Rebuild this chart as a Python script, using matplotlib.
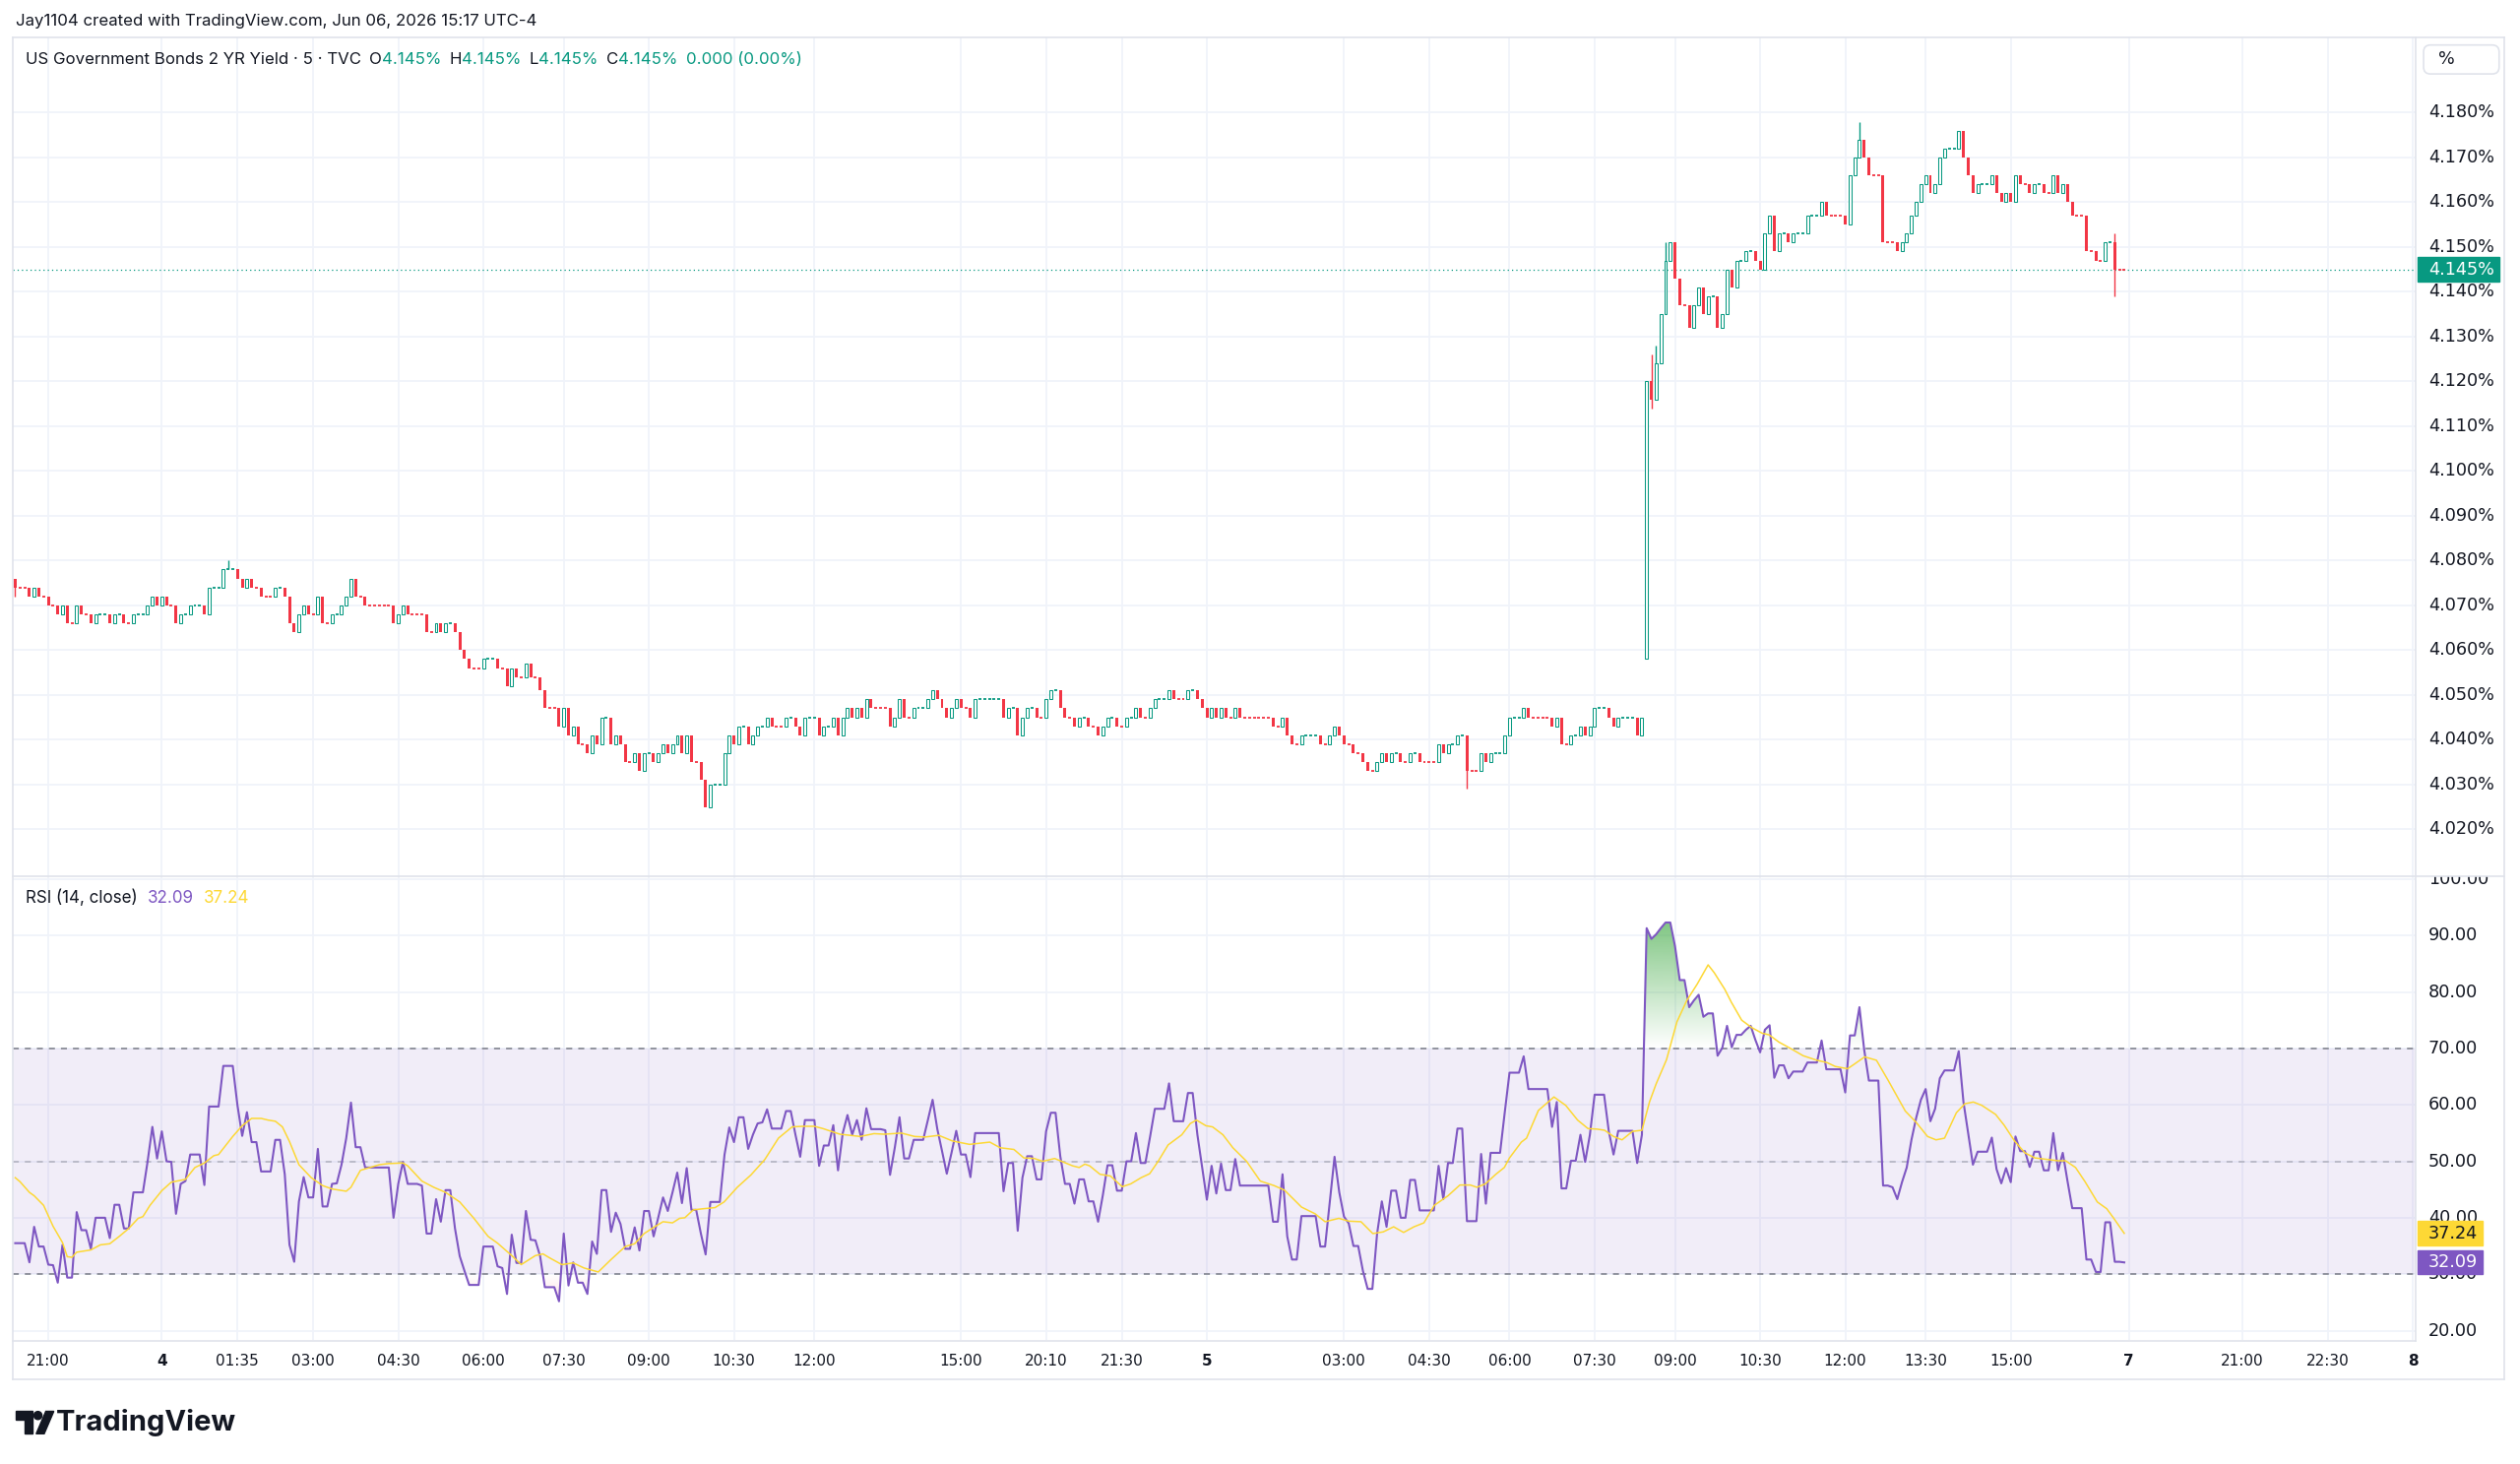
import numpy as np
import matplotlib
matplotlib.use("Agg")
import matplotlib.pyplot as plt
from matplotlib.patches import FancyBboxPatch, Rectangle, Circle, Polygon
from matplotlib.lines import Line2D
from matplotlib.path import Path
from matplotlib.transforms import blended_transform_factory, IdentityTransform
from matplotlib.colors import to_rgb

# ---------------- data ----------------
# 5-minute closes, in thousandths of a percent above 4.000%
first_open = 76
closes = [
    74, 74, 74, 72, 74, 72, 72, 70, 70, 68,
    70, 66, 66, 70, 68, 68, 66, 68, 68, 68,
    66, 68, 68, 66, 66, 68, 68, 68, 70, 72,
    70, 72, 70, 70, 66, 68, 68, 70, 70, 70,
    68, 74, 74, 74, 78, 78, 78, 76, 74, 76,
    74, 74, 72, 72, 72, 74, 74, 72, 66, 64,
    68, 70, 68, 68, 72, 66, 66, 68, 68, 70,
    72, 76, 72, 72, 70, 70, 70, 70, 70, 70,
    66, 68, 70, 68, 68, 68, 68, 64, 64, 66,
    64, 66, 66, 64, 60, 58, 56, 56, 56, 58,
    58, 58, 56, 56, 52, 56, 54, 54, 57, 54,
    54, 51, 47, 47, 47, 43, 47, 41, 43, 39,
    39, 37, 41, 39, 45, 45, 39, 41, 39, 35,
    35, 37, 33, 37, 37, 35, 37, 39, 37, 39,
    41, 37, 41, 35, 35, 31, 25, 30, 30, 30,
    37, 41, 39, 43, 43, 39, 41, 43, 43, 45,
    43, 43, 43, 45, 45, 43, 41, 45, 45, 45,
    41, 43, 43, 45, 41, 45, 47, 45, 47, 45,
    49, 47, 47, 47, 47, 43, 45, 49, 45, 45,
    47, 47, 47, 49, 51, 49, 47, 45, 47, 49,
    47, 47, 45, 49, 49, 49, 49, 49, 49, 45,
    47, 47, 41, 45, 47, 47, 45, 45, 49, 51,
    51, 47, 45, 45, 43, 45, 45, 43, 43, 41,
    43, 45, 45, 43, 43, 45, 45, 47, 45, 45,
    47, 49, 49, 49, 51, 49, 49, 49, 51, 51,
    49, 47, 45, 47, 45, 47, 45, 45, 47, 45,
    45, 45, 45, 45, 45, 45, 43, 43, 45, 41,
    39, 39, 41, 41, 41, 41, 39, 39, 41, 43,
    41, 39, 39, 37, 37, 35, 33, 33, 35, 37,
    35, 37, 37, 35, 35, 37, 37, 35, 35, 35,
    35, 39, 37, 39, 39, 41, 41, 33, 33, 33,
    37, 35, 37, 37, 37, 41, 45, 45, 45, 47,
    45, 45, 45, 45, 45, 43, 45, 39, 39, 41,
    41, 43, 41, 43, 47, 47, 47, 45, 43, 45,
    45, 45, 45, 41, 45, 120, 116, 124, 135, 147,
    151, 143, 137, 137, 132, 137, 141, 135, 139, 139,
    132, 135, 145, 141, 147, 147, 149, 149, 147, 145,
    153, 157, 149, 153, 153, 151, 153, 153, 153, 157,
    157, 157, 160, 157, 157, 157, 157, 155, 166, 170,
    174, 170, 166, 166, 166, 151, 151, 151, 149, 151,
    153, 157, 160, 164, 166, 162, 164, 170, 172, 172,
    172, 176, 170, 166, 162, 164, 164, 164, 166, 162,
    160, 162, 160, 166, 164, 164, 162, 164, 164, 162,
    162, 166, 162, 164, 160, 157, 157, 157, 149, 149,
    147, 147, 151, 151, 145, 145, 145,
]
gap_opens = {345: 58}
wick_hi = {0: 76, 45: 80, 346: 126, 347: 128, 349: 151, 390: 178, 412: 176, 444: 153}
wick_lo = {0: 72, 307: 29, 346: 114, 444: 139}

rsi = [
    35.5, 35.5, 35.5, 32.1, 38.4, 34.9, 34.9, 31.7, 31.6, 28.5,
    35.2, 29.4, 29.4, 41.0, 37.8, 37.8, 34.5, 40.0, 40.0, 40.0,
    36.4, 42.3, 42.3, 38.1, 38.1, 44.5, 44.5, 44.5, 50.0, 56.1,
    50.5, 55.3, 50.0, 49.9, 40.7, 46.0, 46.5, 51.2, 51.2, 51.2,
    45.8, 59.7, 59.7, 59.7, 66.9, 66.9, 66.9, 59.9, 54.5, 58.7,
    53.4, 53.4, 48.2, 48.2, 48.2, 53.8, 53.8, 47.7, 35.2, 32.2,
    42.9, 47.2, 43.6, 43.6, 52.2, 42.0, 42.0, 46.0, 46.1, 49.4,
    54.1, 60.4, 52.5, 52.5, 48.9, 48.9, 48.9, 48.9, 48.9, 48.9,
    40.0, 46.0, 49.9, 46.0, 46.0, 46.0, 45.7, 37.2, 37.2, 43.3,
    39.3, 44.9, 44.9, 38.1, 33.2, 30.6, 28.1, 28.1, 28.1, 34.9,
    34.9, 34.9, 31.4, 31.1, 26.5, 37.0, 32.0, 32.0, 41.2, 36.1,
    36.0, 33.2, 27.7, 27.7, 27.7, 25.2, 37.2, 28.0, 32.1, 28.5,
    28.5, 26.5, 35.8, 33.6, 44.9, 44.9, 37.5, 40.9, 38.9, 34.5,
    34.5, 38.3, 34.2, 41.2, 41.2, 36.7, 40.1, 43.6, 41.2, 44.5,
    48.0, 42.6, 48.8, 41.4, 41.4, 37.2, 33.5, 42.8, 42.8, 42.8,
    51.2, 56.0, 53.4, 57.8, 57.8, 52.2, 54.7, 56.7, 56.9, 59.2,
    55.8, 55.8, 55.8, 58.9, 58.9, 54.7, 50.8, 57.3, 57.3, 57.3,
    49.2, 52.8, 52.8, 56.4, 48.4, 55.0, 58.2, 54.7, 57.3, 53.8,
    59.4, 55.7, 55.7, 55.7, 55.5, 47.6, 52.4, 57.8, 50.5, 50.5,
    53.8, 53.8, 53.8, 57.3, 60.9, 55.7, 51.8, 47.8, 51.5, 55.4,
    51.2, 51.2, 47.2, 55.0, 55.0, 55.0, 55.0, 55.0, 55.0, 44.7,
    49.7, 49.7, 37.7, 47.1, 50.9, 50.9, 46.8, 46.8, 55.3, 58.6,
    58.6, 50.9, 46.0, 46.0, 42.5, 46.8, 46.8, 42.9, 42.9, 39.3,
    44.0, 49.3, 49.3, 44.8, 44.8, 50.0, 50.0, 55.0, 49.7, 49.7,
    54.4, 59.3, 59.3, 59.3, 63.8, 57.1, 57.1, 57.1, 62.1, 62.1,
    54.7, 48.9, 43.2, 49.2, 44.3, 49.6, 44.9, 44.9, 50.4, 45.7,
    45.7, 45.7, 45.7, 45.7, 45.7, 45.7, 39.3, 39.3, 47.7, 36.7,
    32.6, 32.6, 40.3, 40.3, 40.3, 40.3, 34.9, 34.9, 42.8, 50.8,
    44.5, 40.2, 39.0, 35.0, 35.0, 30.6, 27.4, 27.4, 37.2, 42.9,
    38.4, 44.8, 44.8, 40.0, 40.0, 46.7, 46.7, 41.3, 41.3, 41.3,
    41.3, 49.2, 43.3, 49.7, 49.7, 55.8, 55.8, 39.4, 39.4, 39.4,
    51.3, 42.5, 51.5, 51.5, 51.5, 58.7, 65.7, 65.7, 65.7, 68.6,
    62.8, 62.8, 62.8, 62.8, 62.8, 56.1, 60.5, 45.2, 45.2, 50.1,
    50.1, 54.7, 49.9, 54.7, 61.8, 61.8, 61.8, 55.3, 51.2, 55.4,
    55.4, 55.4, 55.4, 49.7, 54.7, 91.3, 89.4, 90.2, 91.3, 92.3,
    92.3, 88.1, 82.1, 82.1, 77.3, 78.5, 79.5, 75.6, 76.2, 76.2,
    68.7, 70.1, 74.0, 70.2, 72.4, 72.4, 73.3, 74.0, 71.5, 69.3,
    73.3, 74.1, 64.8, 67.0, 67.0, 64.7, 65.9, 65.9, 65.9, 67.5,
    67.5, 67.5, 71.4, 66.3, 66.3, 66.3, 66.3, 62.2, 72.3, 72.3,
    77.3, 69.8, 64.3, 64.3, 64.3, 45.7, 45.7, 45.4, 43.3, 46.3,
    48.9, 53.8, 57.7, 60.9, 62.8, 57.1, 59.3, 64.7, 66.1, 66.1,
    66.1, 69.5, 60.5, 55.0, 49.4, 51.7, 51.7, 51.7, 54.2, 48.6,
    46.1, 48.8, 46.3, 54.4, 51.8, 51.8, 49.0, 51.7, 51.7, 48.4,
    48.4, 55.0, 48.4, 51.5, 46.5, 41.7, 41.7, 41.7, 32.6, 32.6,
    30.4, 30.4, 39.2, 39.2, 32.2, 32.2, 32.09,
]

# RSI-based moving average (yellow), read at its turning points
ma_x = [0, 1, 3, 4, 6, 8, 10, 11, 12, 13, 16, 18, 20, 22, 24, 26, 27, 28.5, 31, 33,
        36, 38, 40, 42, 43, 44.5, 46, 48, 50, 52, 53.5, 55, 56.5, 58, 60, 62.6, 65, 67,
        70, 71, 73, 75, 77, 79, 82, 83, 86, 88.5, 91, 94, 97, 100, 102, 105, 107, 110,
        111.6, 113, 115.6, 118, 120.3, 123.3, 126, 129, 131, 133, 135.4, 137, 139, 140.5,
        141.6, 143.4, 145.5, 148, 149.9, 152.7, 155.6, 158.5, 161.4, 164.3, 166.5, 169,
        170.8, 174.4, 178.7, 181.6, 183.8, 187.4, 190.2, 192.4, 195.3, 198.2, 201.8,
        206.1, 208.3, 211.2, 213.3, 215.5, 217.3, 219.8, 222.4, 223.6, 225, 226.2, 227.2,
        229.4, 231.6, 234.1, 235.9, 238.1, 239.9, 241.7, 243.8, 246.7, 248.5, 249.8,
        251.8, 253.2, 255.4, 257.5, 260.4, 263.3, 266.2, 268.4, 272, 274.9, 277, 279.9,
        282, 284.6, 287.1, 289.3, 291.5, 293.6, 295.8, 297.9, 300.1, 303, 305.5, 307.7,
        309.1, 310.9, 313.1, 314.9, 316, 318.5, 319.6, 322.1, 325.4, 327.9, 330.4, 332.6,
        334.5, 336.1, 338, 339.8, 342, 344, 345.6, 347, 349.2, 351.4, 353.5, 355.7, 358,
        359.3, 361.5, 362.9, 365.1, 367.2, 369.4, 370.9, 373, 375.2, 378.1, 381, 383.1,
        384.9, 387.5, 388.9, 391.1, 393.6, 396.1, 399.7, 401.9, 404.4, 406.2, 408, 410.5,
        412.3, 414.1, 415.9, 418.8, 420.6, 422.8, 425, 427.1, 430, 432, 433.6, 435.7,
        437.7, 440.3, 442.3, 443.7, 446]
ma_y = [47.1, 46.4, 44.5, 43.9, 42.2, 38.5, 35.6, 33.1, 33.0, 33.9, 34.3, 35.2, 35.4, 36.7,
        38.1, 39.9, 40.2, 42.2, 44.8, 46.3, 46.8, 48.9, 49.7, 51.0, 51.2, 52.8, 54.4, 56.3,
        57.6, 57.6, 57.3, 57.1, 56.1, 53.5, 49.4, 47.1, 45.7, 45.1, 44.7, 45.4, 48.4, 48.9,
        49.4, 49.6, 49.7, 49.2, 46.5, 45.4, 44.5, 42.8, 39.9, 36.7, 35.5, 33.3, 31.7, 33.3,
        33.6, 32.9, 31.7, 32.0, 31.1, 30.4, 32.6, 34.9, 35.4, 37.2, 38.5, 39.3, 39.1, 39.9,
        40.0, 41.4, 41.6, 41.8, 42.8, 45.4, 47.6, 50.3, 54.1, 56.1, 56.2, 56.2, 55.8, 54.8,
        54.4, 54.9, 54.8, 55.0, 54.4, 54.3, 54.6, 53.6, 53.0, 53.4, 52.4, 52.1, 50.6, 50.5,
        50.0, 50.5, 49.6, 49.2, 48.9, 49.5, 49.2, 47.7, 47.4, 45.5, 46.0, 47.1, 47.8, 50.0,
        52.9, 54.7, 56.7, 57.3, 56.3, 56.1, 54.7, 52.4, 50.0, 46.5, 45.7, 44.9, 41.9, 40.7,
        39.3, 39.9, 39.4, 39.3, 37.2, 37.5, 38.4, 37.4, 38.4, 39.1, 42.2, 43.9, 45.8, 45.8,
        45.4, 46.0, 47.7, 48.9, 50.6, 53.4, 54.1, 59.0, 61.4, 59.9, 57.3, 55.8, 55.7, 55.5,
        54.4, 53.8, 55.3, 55.5, 60.5, 63.7, 68.0, 74.7, 78.5, 81.4, 84.8, 83.4, 80.5, 78.2,
        75.0, 73.7, 72.7, 72.4, 71.1, 70.1, 68.7, 67.9, 67.5, 66.8, 66.4, 67.2, 68.5, 67.9,
        64.3, 58.9, 57.0, 54.4, 53.8, 54.1, 58.6, 60.2, 60.5, 59.9, 58.3, 56.4, 53.6, 51.5,
        50.6, 50.3, 50.1, 50.1, 48.9, 46.4, 42.8, 41.6, 40.0, 37.24]

tick_pos = [7, 31, 47, 63, 81, 99, 116, 134, 152, 169, 200, 218, 234, 252,
            281, 299, 316, 334, 351, 369, 387, 404, 422, 447, 471, 489, 507]
tick_lab = ["21:00", "4", "01:35", "03:00", "04:30", "06:00", "07:30", "09:00", "10:30",
            "12:00", "15:00", "20:10", "21:30", "5", "03:00", "04:30", "06:00", "07:30",
            "09:00", "10:30", "12:00", "13:30", "15:00", "7", "21:00", "22:30", "8"]
day_labels = ["4", "5", "7", "8"]
price_ticks = [4.020, 4.030, 4.040, 4.050, 4.060, 4.070, 4.080, 4.090, 4.100,
               4.110, 4.120, 4.130, 4.140, 4.150, 4.160, 4.170, 4.180]
rsi_ticks = [20, 30, 40, 50, 60, 70, 80, 90, 100]
last_price = 4.145
rsi_last, ma_last = 32.09, 37.24

# ---------------- layout (measured on a 1568 x 911 view of the reference) ----------------
W, H, DPI = 2560, 1487, 100
VW, VH = 1568.0, 911.0
SX = W / VW

UP, DN = "#089981", "#f23645"
TXT = "#131722"
GRID = "#f0f3fa"
BORDER = "#e0e3eb"
PURPLE, YELLOW = "#7e57c2", "#fdd835"
SANS = "Inter"
SCALE_FONT = "DejaVu Sans"

fig = plt.figure(figsize=(W / DPI, H / DPI), dpi=DPI)
fig.patch.set_facecolor("white")
rend = fig.canvas.get_renderer()


def rect(x0, y0, x1, y1):
    return [x0 / VW, 1 - y1 / VH, (x1 - x0) / VW, (y1 - y0) / VH]


def px(x, y):
    return x * SX, H - y * SX


def fit(s, target, family, weight="normal"):
    t = fig.text(0, 0, s, fontsize=20, family=family, weight=weight)
    w = t.get_window_extent(renderer=rend).width
    t.remove()
    return 20 * target * SX / w


PL, PR, PT, PS, RB, TB, FR = 8, 1503, 23, 545, 834, 858, 1558
ax_p = fig.add_axes(rect(PL, PT, PR, PS))
ax_r = fig.add_axes(rect(PL, PS, PR, RB))
ax_ps = fig.add_axes(rect(PR, PT, FR, PS))
ax_rs = fig.add_axes(rect(PR, PS, FR, RB))
for a in (ax_p, ax_r, ax_ps, ax_rs):
    a.set_axis_off()

XL = (-0.5, 507.6)
PY = (4.0096, 4.1969)
RY = (18.3, 100.57)
ax_p.set_xlim(*XL); ax_r.set_xlim(*XL)
ax_p.set_ylim(*PY); ax_ps.set_ylim(*PY)
ax_r.set_ylim(*RY); ax_rs.set_ylim(*RY)
ax_ps.set_xlim(0, 1); ax_rs.set_xlim(0, 1)

# grid
for a, yl, ys in ((ax_p, PY, price_ticks), (ax_r, RY, rsi_ticks)):
    a.vlines(tick_pos, yl[0], yl[1], color=GRID, lw=1.3, zorder=0)
    a.hlines(ys, XL[0], XL[1], color=GRID, lw=1.3, zorder=0)

# ---------------- candles ----------------
n = len(closes)
xs = np.arange(n)
c = 4 + np.array(closes) / 1000.0
o = np.empty(n)
o[0] = 4 + first_open / 1000.0
o[1:] = c[:-1]
for k, v in gap_opens.items():
    o[k] = 4 + v / 1000.0
hi = np.maximum(o, c)
lo = np.minimum(o, c)
for k, v in wick_hi.items():
    hi[k] = 4 + v / 1000.0
for k, v in wick_lo.items():
    lo[k] = 4 + v / 1000.0

cols = []
state = UP
for i in range(n):
    if c[i] > o[i] + 1e-9:
        state = UP
    elif c[i] < o[i] - 1e-9:
        state = DN
    cols.append(state)
cols = np.array(cols)

wk = (hi > np.maximum(o, c) + 1e-9) | (lo < np.minimum(o, c) - 1e-9)
ax_p.vlines(xs[wk], lo[wk], hi[wk], colors=cols[wk], lw=1.0, zorder=2)

BW = 0.62
up = c > o + 1e-9
dn = c < o - 1e-9
fl = ~(up | dn)
ax_p.bar(xs[up], (c - o)[up], bottom=o[up], width=BW, facecolor="white",
         edgecolor=UP, linewidth=0.75, zorder=3)
ax_p.bar(xs[dn], (o - c)[dn], bottom=c[dn], width=BW, color=DN, linewidth=0, zorder=3)
ax_p.hlines(c[fl], xs[fl] - BW / 2, xs[fl] + BW / 2, colors=cols[fl], lw=1.3, zorder=3)

ax_p.axhline(last_price, color=UP, lw=0.9, ls=(0, (1, 2.5)), zorder=1)

# ---------------- RSI ----------------
ax_r.axhspan(30, 70, color=PURPLE, alpha=0.1, lw=0, zorder=0)
ax_r.axhline(70, color="#787b86", lw=1.1, ls=(0, (4, 4)), zorder=1)
ax_r.axhline(50, color="#787b86", lw=1.1, ls=(0, (4, 4)), alpha=0.5, zorder=1)
ax_r.axhline(30, color="#787b86", lw=1.1, ls=(0, (4, 4)), zorder=1)


def grad_fill(ax, x, y, base, far, color, amax):
    y = np.asarray(y)
    mask = y > base if far > base else y < base
    coll = ax.fill_between(x, y, base, where=mask, interpolate=True,
                           facecolor="none", edgecolor="none")
    paths = coll.get_paths()
    if not paths:
        return
    clip = Path.make_compound_path(*paths)
    m = 200
    img = np.ones((m, 1, 4))
    img[:, 0, :3] = to_rgb(color)
    img[:, 0, 3] = np.linspace(0.0, amax, m)
    y0, y1 = (base, far) if far > base else (far, base)
    if far < base:
        img = img[::-1]
    im = ax.imshow(img, extent=(x[0], x[-1], y0, y1), origin="lower",
                   aspect="auto", interpolation="bilinear", zorder=2)
    im.set_clip_path(clip, ax.transData)


grad_fill(ax_r, xs, rsi, 70, 100, "#4caf50", 0.95)
grad_fill(ax_r, xs, rsi, 30, 0, DN, 0.9)
ax_r.set_xlim(*XL); ax_r.set_ylim(*RY)

ax_r.plot(xs, rsi, color=PURPLE, lw=1.5, zorder=3, solid_joinstyle="round")
ax_r.plot(ma_x, ma_y, color=YELLOW, lw=1.1, zorder=4)

# ---------------- frame lines ----------------
def fline(x0, y0, x1, y1, color=BORDER, lw=1.2):
    a, b = px(x0, y0)
    c_, d = px(x1, y1)
    fig.add_artist(Line2D([a, c_], [b, d], color=color, lw=lw, transform=IdentityTransform()))


fline(PL, PT, FR, PT)
fline(PL, TB, FR, TB)
fline(PL, PT, PL, TB)
fline(FR, PT, FR, TB)
fline(PL, PS, FR, PS)
fline(PL, RB, PR, RB)
fline(PR, PT, PR, RB)

# ---------------- scales ----------------
fs_scale = fit("4.180%", 41, SCALE_FONT)
fs_time = fit("21:00", 27, SCALE_FONT)
lab_x = (1511 - PR) / (FR - PR)

tp = blended_transform_factory(ax_ps.transAxes, ax_ps.transData)
for p in price_ticks:
    ax_ps.text(lab_x, p, f"{p:.3f}%", transform=tp, fontsize=fs_scale, family=SCALE_FONT,
               color=TXT, va="center", ha="left", clip_on=True)
hh = 7.5 / 2787.5
ax_ps.add_patch(Rectangle(((1504 - PR) / (FR - PR), last_price - hh), (1555 - 1504) / (FR - PR),
                          2 * hh, transform=tp, color=UP, zorder=5))
ax_ps.text(lab_x, last_price, f"{last_price:.3f}%", transform=tp, fontsize=fs_scale,
           family=SCALE_FONT, color="white", va="center", ha="left", zorder=6)

tr = blended_transform_factory(ax_rs.transAxes, ax_rs.transData)
for v in rsi_ticks:
    ax_rs.text(lab_x, v, f"{v:.2f}", transform=tr, fontsize=fs_scale, family=SCALE_FONT,
               color=TXT, va="center", ha="left", clip_on=True)
rh = 7.5 / 3.5125
for val, face, tc in ((ma_last, YELLOW, TXT), (rsi_last, PURPLE, "white")):
    ax_rs.add_patch(Rectangle(((1504 - PR) / (FR - PR), val - rh), (1545 - 1504) / (FR - PR),
                              2 * rh, transform=tr, color=face, zorder=5))
    ax_rs.text(lab_x, val, f"{val:.2f}", transform=tr, fontsize=fs_scale, family=SCALE_FONT,
               color=tc, va="center", ha="left", zorder=6)

# "%" button on the price scale
bx0, by0 = px(1508, 46)
bx1, by1 = px(1555, 28)
fig.add_artist(FancyBboxPatch((bx0, by0), bx1 - bx0, by1 - by0,
                              boxstyle="round,pad=0,rounding_size=7", transform=IdentityTransform(),
                              facecolor="white", edgecolor=BORDER, lw=1.2))
fig.text(1517 / VW, 1 - 37 / VH, "%", fontsize=fs_scale, family=SCALE_FONT, color=TXT,
         va="center", ha="left")

# time axis
tt = blended_transform_factory(ax_r.transData, fig.transFigure)
for pos, lab in zip(tick_pos, tick_lab):
    ax_r.text(pos, 1 - 847 / VH, lab, transform=tt, fontsize=fs_time, family=SCALE_FONT,
              color=TXT, ha="center", va="center", clip_on=False,
              weight="bold" if lab in day_labels else "normal")

# ---------------- legends / header ----------------
def row(x, y, pieces, size, family, weight="normal"):
    X, Y = px(x, y)
    for s, col, gap in pieces:
        t = fig.text(X / W, Y / H, s, fontsize=size, family=family, color=col,
                     va="center", ha="left", weight=weight)
        X = t.get_window_extent(renderer=rend).x1 + gap * SX


head = "Jay1104 created with TradingView.com, Jun 06, 2026 15:17 UTC-4"
row(10, 13, [(head, TXT, 0)], fit(head, 325, SANS), SANS)

title = "US Government Bonds 2 YR Yield · 5 · TVC"
fs_leg = fit(title, 209, SANS)
val = f"{last_price:.3f}%"
row(16, 37, [(title, TXT, 5), ("O", TXT, 0), (val, UP, 5), ("H", TXT, 0), (val, UP, 5),
             ("L", TXT, 0), (val, UP, 5), ("C", TXT, 0), (val, UP, 5),
             ("0.000 (0.00%)", UP, 0)], fs_leg, SANS)

rlab = "RSI (14, close)"
row(16, 559, [(rlab, TXT, 6), (f"{rsi_last:.2f}", PURPLE, 6), (f"{ma_last:.2f}", YELLOW, 0)],
    fit(rlab, 70, SANS), SANS)

# TradingView logo
logo = "TradingView"
row(35, 885, [(logo, TXT, 0)], fit(logo, 112, SANS, "bold"), SANS, weight="bold")
fig.add_artist(Polygon([px(10, 878), px(20.5, 878), px(20.5, 892), px(15.5, 892),
                        px(15.5, 883), px(10, 883)], closed=True, transform=IdentityTransform(),
                       color=TXT))
cx, cy = px(23.6, 880.6)
fig.add_artist(Circle((cx, cy), 2.5 * SX, transform=IdentityTransform(), color=TXT))
fig.add_artist(Polygon([px(22.5, 892), px(28.5, 878), px(33.5, 878), px(27.5, 892)],
                       closed=True, transform=IdentityTransform(), color=TXT))

fig.savefig("out.png", dpi=DPI, facecolor="white")
